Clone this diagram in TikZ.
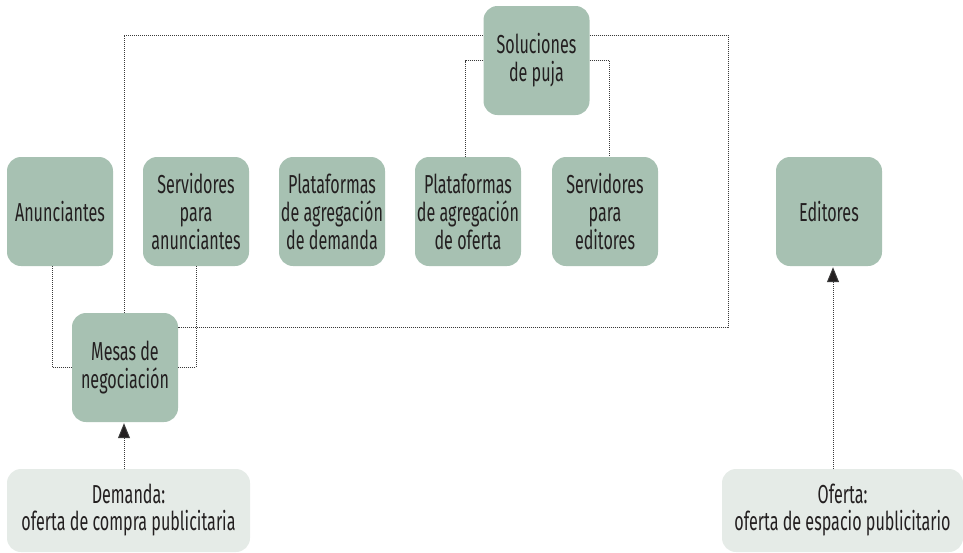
\documentclass[tikz,border=0pt]{standalone}
\usepackage{fontspec}
\setmainfont[FakeStretch=0.62]{Fira Sans}
\usetikzlibrary{arrows.meta}
\definecolor{boxgreen}{HTML}{A7C1B2}
\definecolor{boxlight}{HTML}{E5EBE7}
\definecolor{txt}{HTML}{231F20}
\definecolor{dotc}{HTML}{3A3A3A}
\tikzset{
  mainbox/.style={fill=boxgreen, rounded corners=14pt, minimum width=106pt, minimum height=109pt,
    inner sep=0pt, align=center, text=txt, font=\fontsize{26}{28}\selectfont},
  lightbox/.style={fill=boxlight, rounded corners=14pt, minimum height=83pt,
    inner sep=0pt, align=center, text=txt, font=\fontsize{26}{27}\selectfont},
  dotline/.style={draw=dotc, line width=1pt, dash pattern=on 1pt off 1pt},
  uparrow/.style={dotline, -{Triangle[length=15pt,width=12pt,fill=txt]}, shorten >=1pt}
}
\begin{document}
\begin{tikzpicture}[x=1pt,y=-1pt]
\useasboundingbox (0,0) rectangle (963,552);
\node[mainbox] (anun) at (60,211.5) {Anunciantes};
\node[mainbox] (servan) at (196,211.5) {Servidores\\para\\anunciantes};
\node[mainbox] (platdem) at (332,211.5) {Plataformas\\de agregación\\de demanda};
\node[mainbox] (platof) at (468,211.5) {Plataformas\\de agregación\\de oferta};
\node[mainbox] (served) at (605,211.5) {Servidores\\para\\editores};
\node[mainbox] (edit) at (829,211.5) {Editores};
\node[mainbox] (sol) at (536.5,60.5) {Soluciones\\de puja};
\node[mainbox] (mesas) at (125,367.5) {Mesas de\\negociación};
\node[lightbox, minimum width=243pt] (dem) at (128.5,510.5) {Demanda:\\oferta de compra publicitaria};
\node[lightbox, minimum width=241pt] (of) at (842.5,510.5) {Oferta:\\oferta de espacio publicitario};
\coordinate (tl) at (124,35);
\coordinate (tr) at (728,35);
\coordinate (br) at (728,327);
\draw[dotline] ([xshift=-1pt]mesas.north) -- (tl) -- (sol.west |- tl);
\draw[dotline] (sol.east |- tr) -- (tr) -- (br) -- (mesas.east |- br);
\draw[dotline] (sol.west) -| ([xshift=-3pt]platof.north);
\draw[dotline] (sol.east) -| ([xshift=4pt]served.north);
\draw[dotline] ([xshift=-8pt]anun.south) |- (mesas.west);
\draw[dotline] (servan.south) |- (mesas.east);
\draw[uparrow] ([xshift=-1pt]mesas.south |- dem.north) -- ([xshift=-1pt]mesas.south);
\draw[uparrow] ([xshift=4pt]edit.south |- of.north) -- ([xshift=4pt]edit.south);
\end{tikzpicture}
\end{document}
